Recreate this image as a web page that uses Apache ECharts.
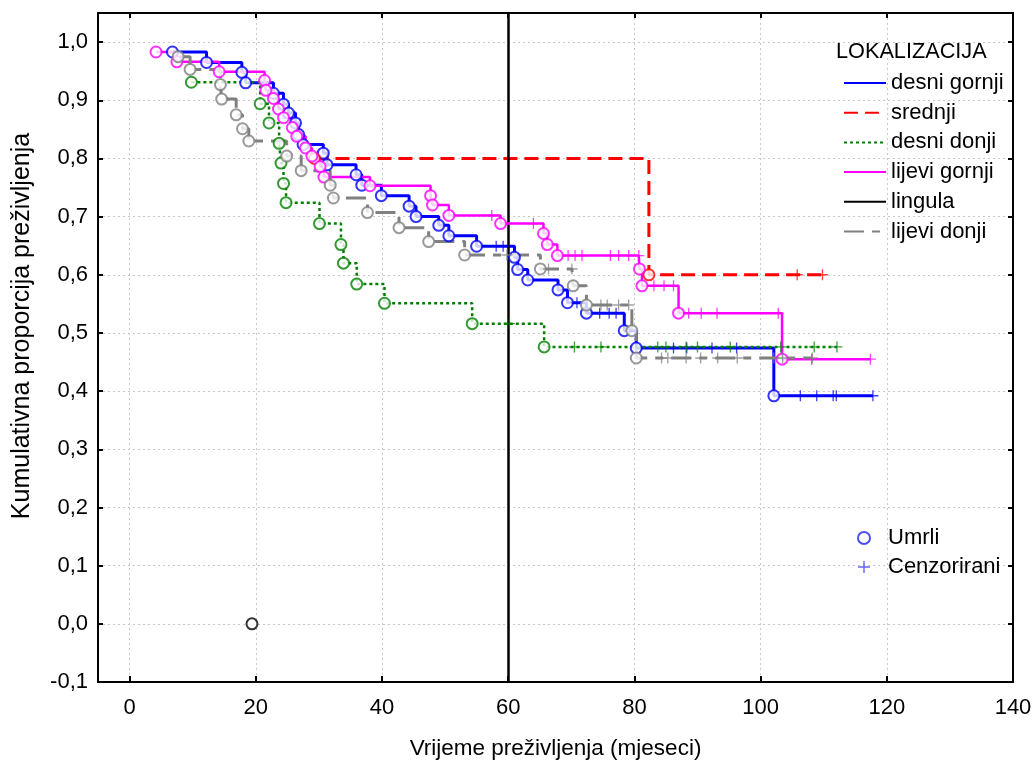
<!DOCTYPE html>
<html><head><meta charset="utf-8">
<script src="https://cdn.jsdelivr.net/npm/echarts@6/dist/echarts.min.js"></script>
<style>html,body{margin:0;padding:0;background:#fff}#c{width:1036px;height:762px}</style>
</head><body><div id="c"></div>
<script>
// ---- tick labels ----
const xTicks = [0, 20, 40, 60, 80, 100, 120, 140];
const yTicks = [-0.1, 0, 0.1, 0.2, 0.3, 0.4, 0.5, 0.6, 0.7, 0.8, 0.9, 1.0];

// ---- desni gornji (event: 1 = umrli, 0 = cenzorirani) ----
const dgTime  = [6.8,12.2,17.8,18.4,22.8,24.4,25.2,26.3,26.8,27.5,30.7,31.3,35.9,36.8,39.9,44.3,45.4,49.0,50.6,55.0,58.1,59.2,61.0,61.5,63.1,67.9,69.4,70.9,72.4,74.5,76.0,77.1,78.4,80.3,86.2,88.3,92.3,96.2,102.1,106.3,108.9,111.5,112.0,117.8];
const dgSurv  = [0.983,0.965,0.948,0.930,0.912,0.893,0.878,0.861,0.841,0.824,0.809,0.789,0.772,0.754,0.736,0.718,0.700,0.685,0.667,0.649,0.649,0.649,0.630,0.609,0.591,0.574,0.552,0.552,0.534,0.534,0.534,0.534,0.504,0.474,0.474,0.474,0.474,0.474,0.392,0.392,0.392,0.392,0.392,0.392];
const dgEvent = [1,1,1,1,1,1,1,1,1,1,1,1,1,1,1,1,1,1,1,1,0,0,1,1,1,1,1,0,1,0,0,0,1,1,0,0,0,0,1,0,0,0,0,0];

// ---- srednji ----
const srTime  = [29.3,82.3,105.8,109.8];
const srSurv  = [0.800,0.600,0.600,0.600];
const srEvent = [1,1,0,0];

// ---- desni donji ----
const ddTime  = [9.8,20.7,22.1,23.7,24.0,24.4,24.8,30.1,33.5,33.9,36.0,40.4,54.3,60.2,65.7,70.5,74.7,83.7,85.0,88.2,90.0,95.2,103.2,108.5,112.1];
const ddSurv  = [0.931,0.894,0.861,0.826,0.792,0.757,0.724,0.688,0.652,0.620,0.584,0.551,0.516,0.516,0.476,0.476,0.476,0.476,0.476,0.476,0.476,0.476,0.476,0.476,0.476];
const ddEvent = [1,1,1,1,1,1,1,1,1,1,1,1,1,0,1,0,0,0,0,0,0,0,0,0,0];

// ---- lijevi gornji ----
const lgTime  = [4.2,7.5,14.2,21.4,21.6,22.8,23.6,24.4,25.8,26.5,27.9,28.9,30.2,30.8,38.1,47.7,48.0,50.6,57.4,58.8,64.0,65.6,66.2,67.8,69.5,70.6,71.7,76.2,77.5,79.1,80.7,80.8,81.2,83.1,84.7,86.2,87.0,88.6,90.6,93.1,102.8,103.4,108.1,117.4];
const lgSurv  = [0.983,0.966,0.949,0.934,0.917,0.903,0.885,0.870,0.853,0.838,0.818,0.804,0.786,0.768,0.753,0.736,0.720,0.702,0.702,0.688,0.688,0.671,0.652,0.633,0.633,0.633,0.633,0.633,0.633,0.633,0.633,0.610,0.581,0.581,0.581,0.581,0.534,0.534,0.534,0.534,0.534,0.455,0.455,0.455];
const lgEvent = [1,1,1,1,1,1,1,1,1,1,1,1,1,1,1,1,1,1,0,1,0,1,1,1,0,0,0,0,0,0,0,1,1,0,0,0,1,0,0,0,0,1,0,0];

// ---- lingula ----
const liTime  = [19.4];
const liSurv  = [0.0];
const liEvent = [1];
const liRefX  = [60];

// ---- lijevi donji ----
const ldTime  = [7.7,9.6,14.4,14.6,16.9,17.9,18.9,24.9,27.2,31.8,32.3,37.7,42.7,47.4,53.1,59.8,65.1,66.4,70.1,70.3,72.4,74.7,75.7,77.5,79.1,79.6,80.3,84.3,85.3,88.2,90.5,93.2,96.3,102.1,103.5,108.2];
const ldSurv  = [0.975,0.953,0.927,0.902,0.875,0.851,0.830,0.804,0.779,0.754,0.732,0.707,0.681,0.657,0.634,0.634,0.610,0.610,0.610,0.581,0.548,0.548,0.548,0.548,0.548,0.504,0.457,0.457,0.457,0.457,0.457,0.457,0.457,0.457,0.457,0.457];
const ldEvent = [1,1,1,1,1,1,1,1,1,1,1,1,1,1,1,0,1,0,0,1,1,0,0,0,0,1,1,0,0,0,0,0,0,0,0,0];

const FONT = '"Liberation Sans", Arial, Helvetica, sans-serif';
const PLUS = 'path://M4.4,0H5.6V4.4H10V5.6H5.6V10H4.4V5.6H0V4.4H4.4Z';

const groups = [
  {name:'desni gornji', color:'#0000ff', width:3,   type:'solid',      t:dgTime, s:dgSurv, e:dgEvent},
  {name:'srednji',      color:'#ff0000', width:3,   type:[14,7],       t:srTime, s:srSurv, e:srEvent},
  {name:'desni donji',  color:'#008000', width:2.5, type:[3,3],        t:ddTime, s:ddSurv, e:ddEvent},
  {name:'lijevi gornji',color:'#ff00ff', width:2.5, type:'solid',      t:lgTime, s:lgSurv, e:lgEvent},
  {name:'lingula',      color:'#000000', width:2.5, type:'solid',      t:liTime, s:liSurv, e:liEvent},
  {name:'lijevi donji', color:'#808080', width:3,   type:[20,8,8,8],   t:ldTime, s:ldSurv, e:ldEvent}
];

const series = [];
groups.forEach((g, gi) => {
  const pts = g.t.map((t, i) => [t, g.s[i]]);
  const line = {
    type:'line', name:g.name, step:'end', symbol:'none', data:pts,
    lineStyle:{color:g.color, width:g.width, type:g.type}, itemStyle:{color:g.color},
    z: 2 + gi, silent:true, animation:false
  };
  if (g.name === 'lingula') {
    line.markLine = {
      silent:true, symbol:'none', label:{show:false}, animation:false,
      lineStyle:{color:'#000', width:2.5, type:'solid'},
      data: liRefX.map(v => ({xAxis:v}))
    };
  }
  series.push(line);
});
groups.forEach((g, gi) => {
  const pts = g.t.map((t, i) => [t, g.s[i]]);
  series.push({
    type:'scatter', name:g.name + ' (umrli)', symbol:'emptyCircle', symbolSize:11,
    data: pts.filter((p, i) => g.e[i] === 1),
    itemStyle:{color:g.color, borderWidth:1.3}, z: 10 + gi, silent:true, animation:false
  });
  series.push({
    type:'scatter', name:g.name + ' (cenz.)', symbol:PLUS, symbolSize:11,
    data: pts.filter((p, i) => g.e[i] === 0),
    itemStyle:{color:g.color, opacity:0.75}, z: 10 + gi, silent:true, animation:false
  });
});
series.push({type:'scatter', name:'Umrli', data:[], symbol:'emptyCircle', itemStyle:{color:'#2020ff', borderWidth:1.3}});
series.push({type:'scatter', name:'Cenzorirani', data:[], symbol:PLUS, itemStyle:{color:'#4040ff'}});

const fmt = v => (Math.round(v * 10) / 10).toFixed(1).replace('.', ',');
const gridLine = {show:true, lineStyle:{color:'#c8c8c8', width:1, type:[2,3]}};

const option = {
  animation:false,
  backgroundColor:'#fff',
  textStyle:{fontFamily:FONT},
  grid:{left:98, right:23, top:13, bottom:80, containLabel:false, outerBoundsMode:'none'},
  title:{text:'LOKALIZACIJA', left:836, top:41, padding:0,
         textStyle:{fontSize:21.7, fontWeight:'normal', fontFamily:FONT, color:'#000'}},
  legend:[
    {orient:'vertical', left:838, top:67, itemWidth:42, itemHeight:14, itemGap:7.7, selectedMode:false,
     data:groups.map(g => g.name), itemStyle:{opacity:0},
     textStyle:{fontSize:22, fontFamily:FONT, color:'#000', lineHeight:22, padding:[0,0,0,0]}},
    {orient:'vertical', left:852, top:522, itemWidth:26, itemHeight:12, itemGap:7, selectedMode:false,
     data:['Umrli','Cenzorirani'],
     textStyle:{fontSize:22, fontFamily:FONT, color:'#000', lineHeight:22, padding:[0,0,0,6]}}
  ],
  xAxis:[
    {type:'value', min:-5, max:140, splitNumber:7, position:'bottom',
     name:'Vrijeme preživljenja (mjeseci)', nameLocation:'middle', nameGap:55,
     nameTextStyle:{fontSize:22.5, fontFamily:FONT, color:'#000'},
     axisLine:{show:true, onZero:false, lineStyle:{color:'#000', width:2}},
     axisTick:{show:true, inside:true, length:6, customValues:xTicks, lineStyle:{color:'#000', width:2}},
     axisLabel:{customValues:xTicks, margin:15, fontSize:22, fontFamily:FONT, color:'#000', formatter:v => String(v)},
     splitLine:gridLine},
    {type:'value', min:-5, max:140, splitNumber:7, position:'top',
     axisLine:{show:true, onZero:false, lineStyle:{color:'#000', width:2}},
     axisTick:{show:true, inside:true, length:5, customValues:xTicks, lineStyle:{color:'#000', width:2}},
     axisLabel:{show:false}, splitLine:{show:false}}
  ],
  yAxis:[
    {type:'value', min:-0.1, max:1.05, interval:0.1, position:'left',
     axisLine:{show:true, onZero:false, lineStyle:{color:'#000', width:2}},
     axisTick:{show:true, inside:true, length:5, customValues:yTicks, lineStyle:{color:'#000', width:2}},
     axisLabel:{customValues:yTicks, margin:10, fontSize:22, fontFamily:FONT, color:'#000', formatter:fmt},
     splitLine:gridLine},
    {type:'value', min:-0.1, max:1.05, interval:0.1, position:'right',
     axisLine:{show:true, onZero:false, lineStyle:{color:'#000', width:2}},
     axisTick:{show:true, inside:true, length:5, customValues:yTicks, lineStyle:{color:'#000', width:2}},
     axisLabel:{show:false}, splitLine:{show:false}}
  ],
  graphic:[
    {type:'text', x:22, y:326, rotation:Math.PI/2, silent:true,
     style:{text:'Kumulativna proporcija preživljenja', font:'25px ' + FONT, fill:'#000',
            textAlign:'center', textVerticalAlign:'middle'}}
  ],
  series: series
};
const chart = echarts.init(document.getElementById('c'));
chart.setOption(option);
</script>
</body></html>
